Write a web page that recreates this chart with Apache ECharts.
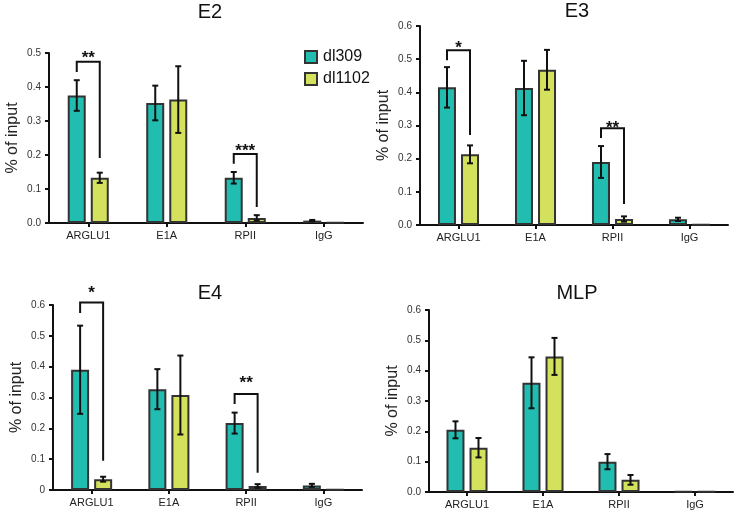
<!DOCTYPE html>
<html>
<head>
<meta charset="utf-8">
<script src="https://cdn.jsdelivr.net/npm/echarts@6/dist/echarts.min.js"></script>
<style>
  html, body { margin: 0; padding: 0; background: #fff; }
  #chart { width: 735px; height: 512px; }
</style>
</head>
<body>
<div id="chart"></div>
<script>
const categories = ['ARGLU1', 'E1A', 'RPII', 'IgG'];
const panelTitles = ['E2', 'E3', 'E4', 'MLP'];
const yMax = [0.5, 0.6, 0.6, 0.6];

// means and error (half-range) per panel
const e2Dl309 = [0.375, 0.353, 0.133, 0.007];
const e2Dl309Err = [0.045, 0.051, 0.017, 0.002];
const e2Dl1102 = [0.133, 0.363, 0.015, 0.001];
const e2Dl1102Err = [0.015, 0.098, 0.008, 0];

const e3Dl309 = [0.415, 0.413, 0.19, 0.017];
const e3Dl309Err = [0.061, 0.082, 0.048, 0.005];
const e3Dl1102 = [0.213, 0.468, 0.018, 0.001];
const e3Dl1102Err = [0.027, 0.06, 0.008, 0];

const e4Dl309 = [0.39, 0.327, 0.217, 0.015];
const e4Dl309Err = [0.143, 0.065, 0.034, 0.005];
const e4Dl1102 = [0.035, 0.308, 0.013, 0.001];
const e4Dl1102Err = [0.008, 0.128, 0.006, 0];

const mlpDl309 = [0.205, 0.36, 0.1, 0.002];
const mlpDl309Err = [0.028, 0.084, 0.025, 0];
const mlpDl1102 = [0.146, 0.447, 0.04, 0.001];
const mlpDl1102Err = [0.032, 0.061, 0.016, 0];

// significance brackets: [category, bracket top, left leg end, right leg end, star level]
const e2Sig = [[0, 0.474, 0.444, 0.191, 0.5], [2, 0.203, 0.174, 0.047, 0.225]];
const e2Stars = ['**', '***'];
const e3Sig = [[0, 0.527, 0.497, 0.271, 0.548], [2, 0.292, 0.262, 0.063, 0.307]];
const e3Stars = ['*', '**'];
const e4Sig = [[0, 0.608, 0.574, 0.095, 0.655], [2, 0.311, 0.279, 0.056, 0.363]];
const e4Stars = ['*', '**'];
const mlpSig = [];
const mlpStars = [];

const panels = [
  { a: e2Dl309, ae: e2Dl309Err, b: e2Dl1102, be: e2Dl1102Err, sig: e2Sig, stars: e2Stars },
  { a: e3Dl309, ae: e3Dl309Err, b: e3Dl1102, be: e3Dl1102Err, sig: e3Sig, stars: e3Stars },
  { a: e4Dl309, ae: e4Dl309Err, b: e4Dl1102, be: e4Dl1102Err, sig: e4Sig, stars: e4Stars },
  { a: mlpDl309, ae: mlpDl309Err, b: mlpDl1102, be: mlpDl1102Err, sig: mlpSig, stars: mlpStars }
];

const grids = [
  { left: 49, top: 53, width: 314, height: 170 },
  { left: 420, top: 26, width: 308, height: 199 },
  { left: 53, top: 305, width: 309, height: 185 },
  { left: 429, top: 310, width: 304, height: 182 }
];
const titlePos = [[205, -3], [572, -4], [205, 278], [572, 278]];

const FONT = "'Liberation Sans', Arial, sans-serif";
const TEAL = '#21bdb1';
const LIME = '#d4e15c';
const BAR_W = 18;
const BAR_OFF = 11.5;

function errRender(params, api) {
  const side = api.value(3);
  const lo = api.coord([api.value(0), api.value(1)]);
  const hi = api.coord([api.value(0), api.value(2)]);
  const x = lo[0] + side * BAR_OFF;
  const st = { stroke: '#111', lineWidth: 2 };
  return {
    type: 'group',
    children: [
      { type: 'line', shape: { x1: x, y1: lo[1], x2: x, y2: hi[1] }, style: st },
      { type: 'line', shape: { x1: x - 3, y1: lo[1], x2: x + 3, y2: lo[1] }, style: st },
      { type: 'line', shape: { x1: x - 3, y1: hi[1], x2: x + 3, y2: hi[1] }, style: st }
    ]
  };
}

function sigRender(stars) {
  return function (params, api) {
    const c = api.value(0);
    const top = api.coord([c, api.value(1)]);
    const l = api.coord([c, api.value(2)]);
    const r = api.coord([c, api.value(3)]);
    const s = api.coord([c, api.value(4)]);
    const xl = top[0] - BAR_OFF, xr = top[0] + BAR_OFF;
    return {
      type: 'group',
      children: [
        { type: 'polyline', shape: { points: [[xl, l[1]], [xl, top[1]], [xr, top[1]], [xr, r[1]]] },
          style: { stroke: '#111', lineWidth: 2, fill: null } },
        { type: 'text', x: top[0], y: s[1] + 5,
          style: { text: stars[params.dataIndex], fontSize: 17, fontWeight: 'bold', fontFamily: FONT,
                   fill: '#111', align: 'center', verticalAlign: 'middle' } }
      ]
    };
  };
}

const option = {
  animation: false,
  title: panelTitles.map((t, i) => ({
    text: t, left: titlePos[i][0], top: titlePos[i][1], textAlign: 'center',
    textStyle: { fontSize: 20, fontWeight: 'normal', color: '#111', fontFamily: FONT }
  })),
  legend: {
    data: ['dl309', 'dl1102'], orient: 'vertical', left: 299, top: 44,
    itemWidth: 12, itemHeight: 12, itemGap: 6, icon: 'rect',
    textStyle: { fontSize: 16, color: '#111', fontFamily: FONT, padding: [0, 0, 0, 1] }
  },
  grid: grids.map(g => Object.assign({ containLabel: false }, g)),
  xAxis: grids.map((g, i) => ({
    type: 'category', gridIndex: i, data: categories,
    axisLine: { lineStyle: { color: '#111', width: 2 } },
    axisTick: { show: true, alignWithLabel: true, length: 4, lineStyle: { color: '#111', width: 2 } },
    axisLabel: { fontSize: 11, color: '#222', margin: 7, fontFamily: FONT },
    splitLine: { show: false }
  })),
  yAxis: grids.map((g, i) => ({
    type: 'value', gridIndex: i, min: 0, max: yMax[i], interval: 0.1,
    name: '% of input', nameLocation: 'middle', nameGap: 28,
    nameTextStyle: { fontSize: 16, color: '#222', fontFamily: FONT },
    axisLine: { show: true, lineStyle: { color: '#111', width: 2 } },
    axisTick: { show: true, length: 4, lineStyle: { color: '#111', width: 2 } },
    axisLabel: {
      fontSize: 10, color: '#333', margin: 8, fontFamily: FONT,
      formatter: v => (i === 2 && v === 0) ? '0' : v.toFixed(1)
    },
    splitLine: { show: false }
  })),
  series: []
};

panels.forEach((p, i) => {
  const barStyle = c => ({ color: c, borderColor: '#333', borderWidth: 2 });
  option.series.push({
    type: 'bar', name: 'dl309', xAxisIndex: i, yAxisIndex: i, data: p.a,
    barWidth: BAR_W, barGap: '28%', itemStyle: barStyle(TEAL)
  });
  option.series.push({
    type: 'bar', name: 'dl1102', xAxisIndex: i, yAxisIndex: i, data: p.b,
    barWidth: BAR_W, barGap: '28%', itemStyle: barStyle(LIME)
  });
  const errData = [];
  p.a.forEach((v, k) => { if (p.ae[k] > 0) errData.push([k, v - p.ae[k], v + p.ae[k], -1]); });
  p.b.forEach((v, k) => { if (p.be[k] > 0) errData.push([k, v - p.be[k], v + p.be[k], 1]); });
  option.series.push({
    type: 'custom', xAxisIndex: i, yAxisIndex: i, z: 5, silent: true,
    renderItem: errRender, data: errData, encode: { x: 0, y: [1, 2] }
  });
  if (p.sig.length) {
    option.series.push({
      type: 'custom', xAxisIndex: i, yAxisIndex: i, z: 5, silent: true, clip: false,
      renderItem: sigRender(p.stars), data: p.sig, encode: { x: 0, y: [1, 2, 3, 4] }
    });
  }
});

const chart = echarts.init(document.getElementById('chart'));
chart.setOption(option);
</script>
</body>
</html>
